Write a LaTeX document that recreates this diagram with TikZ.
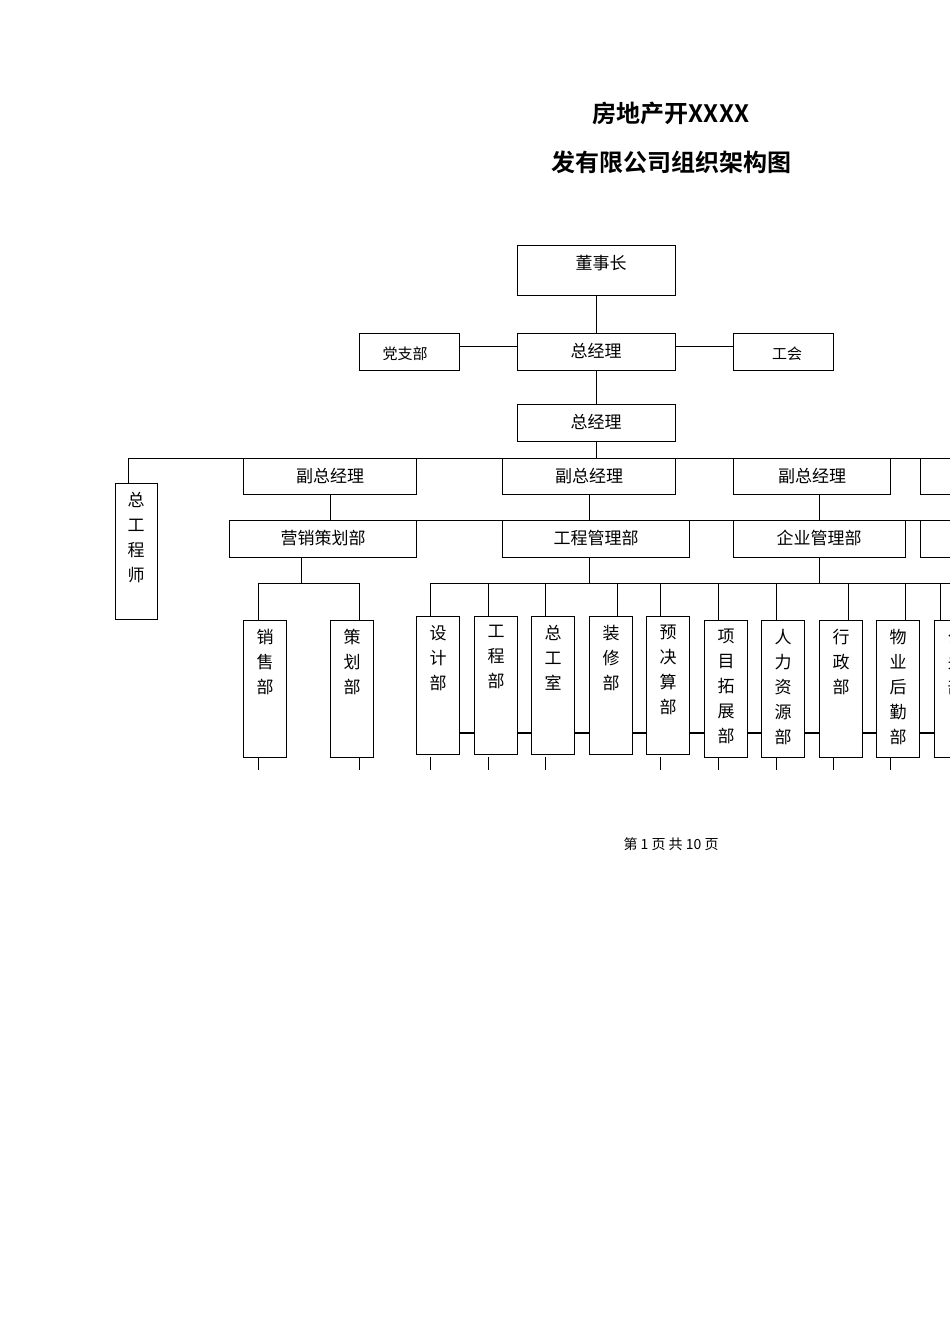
\documentclass[tikz,border=0pt]{standalone}
\usepackage{fontspec}
\setmainfont{Noto Sans CJK SC}
\newfontfamily\cjkb{Noto Sans CJK SC Bold}
\begin{document}
\begin{tikzpicture}[x=1pt,y=-1pt,line width=0.9pt,
  bx/.style={draw,inner sep=0pt},
  tx/.style={font=\fontsize{17}{25}\selectfont,inner sep=0pt,align=center},
  sm/.style={font=\fontsize{15}{18}\selectfont,inner sep=0pt},
  thk/.style={line width=2pt}]
\path[use as bounding box] (0,0) rectangle (950,1344);
\begin{scope}
\clip (0,0) rectangle (950,1344);
\node[font=\cjkb\fontsize{24}{28}\selectfont] (t1) at (671,113) {房地产开XXXX};
\node[font=\cjkb\fontsize{24}{28}\selectfont] (t2) at (671,162) {发有限公司组织架构图};
% top
\draw (517,245) rectangle (675,295) coordinate (dsz);
\node[tx] (dsz) at (601,263) {董事长};
\draw (359,333) rectangle (459,370); \node[sm] (dzb) at (405,354) {党支部};
\draw (517,333) rectangle (675,370); \node[tx] (zjl) at (596,351) {总经理};
\draw (733,333) rectangle (833,370); \node[sm] (gh) at (787,354) {工会};
\draw (517,404) rectangle (675,441); \node[tx] (zjl2) at (596,422) {总经理};
\draw (596,295) -- (596,333) (459,346) -- (517,346) (675,346) -- (733,346) (596,370) -- (596,404) (596,441) -- (596,458);
% bus 1
\draw (128,458) -- (950,458);
\draw (128,458) -- (128,483);
\draw (115,483) rectangle (157,619);
\node[tx,anchor=north] (zgcs) at (136,492) {总\\工\\程\\师};
\foreach \a/\b/\c in {243/416/330,502/675/589,733/890/812,920/1100/1000}{
  \draw (\a,458) rectangle (\b,494);
  \node[tx] at (\c,476) {副总经理};}
\draw (330,494) -- (330,520) (589,494) -- (589,520) (819,494) -- (819,520);
% bus 2
\draw (229,520) -- (950,520);
\draw (229,520) rectangle (416,557); \node[tx] (yx) at (323,538) {营销策划部};
\draw (502,520) rectangle (689,557); \node[tx] (gc) at (596,538) {工程管理部};
\draw (733,520) rectangle (905,557); \node[tx] (qy) at (819,538) {企业管理部};
\draw (920,520) rectangle (1100,557);
% child buses
\draw (301,557) -- (301,583) (258,620) -- (258,583) -- (359,583) -- (359,620);
\draw (589,557) -- (589,583) (430,583) -- (950,583);
\draw (819,557) -- (819,583);
\foreach \x/\t in {430/616,488/616,545/616,617/616,660/616,718/620,776/620,848/620,905/620,940/620}
  \draw (\x,583) -- (\x,\t);
% leaf boxes
\foreach \a/\t/\bo/\txt in {243/620/757/{销\\售\\部},330/620/757/{策\\划\\部},
  416/616/754/{设\\计\\部},474/616/754/{工\\程\\部},531/616/754/{总\\工\\室},
  589/616/754/{装\\修\\部},646/616/754/{预\\决\\算\\部},704/620/757/{项\\目\\拓\\展\\部},
  761/620/757/{人\\力\\资\\源\\部},819/620/757/{行\\政\\部},876/620/757/{物\\业\\后\\勤\\部},
  934/620/757/{公\\关\\部}}{
  \draw (\a,\t) rectangle ({\a+43},\bo);
  \node[tx,anchor=north] at ({\a+22},{\t+9}) {\txt};}
\foreach \a in {459,517,574,632,689,747,804,862,919}
  \draw[thk] (\a,733) -- ({\a+15},733);
\foreach \x in {258,359,430,488,545,660,718,776,833,890}
  \draw (\x,757) -- (\x,770);
\node[font=\fontsize{14}{16}\selectfont] (ft) at (671,844) {第 1 页 共 10 页};
\end{scope}
\end{tikzpicture}
\end{document}
